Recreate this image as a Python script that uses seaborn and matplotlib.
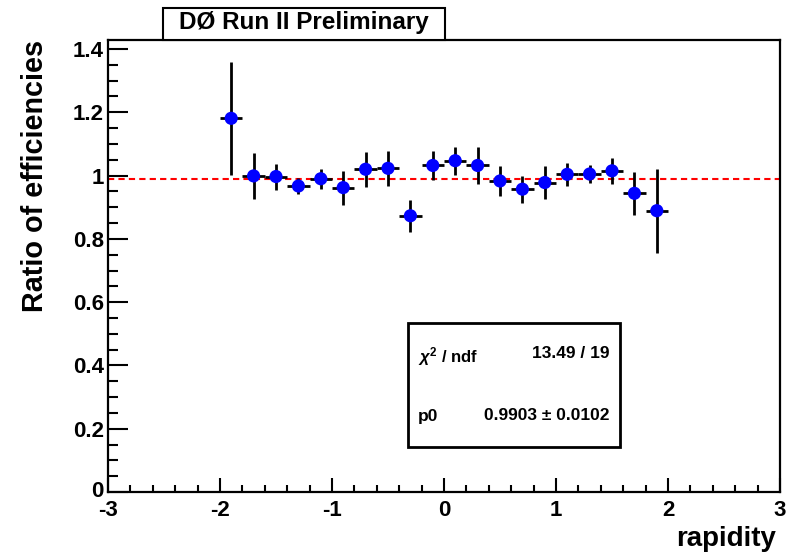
import numpy as np
import pandas as pd
import matplotlib
matplotlib.use("Agg")
import matplotlib.pyplot as plt
import matplotlib.transforms as mtransforms
from matplotlib.patches import Rectangle
from matplotlib.ticker import MultipleLocator, FixedLocator
import seaborn as sns

# ---- data ----
rapidity = [-1.9, -1.7, -1.5, -1.3, -1.1, -0.9, -0.7, -0.5, -0.3, -0.1,
            0.1, 0.3, 0.5, 0.7, 0.9, 1.1, 1.3, 1.5, 1.7, 1.9]
ratio = [1.181, 0.999, 0.997, 0.967, 0.990, 0.962, 1.020, 1.023, 0.873, 1.032,
         1.047, 1.032, 0.983, 0.957, 0.978, 1.004, 1.005, 1.015, 0.944, 0.889]
ratio_err = [0.179, 0.072, 0.041, 0.025, 0.032, 0.054, 0.055, 0.055, 0.050, 0.047,
             0.044, 0.058, 0.047, 0.043, 0.052, 0.036, 0.028, 0.042, 0.068, 0.133]
bin_half_width = [0.1] * 20
fit_p0 = 0.9903
fit_p0_err = 0.0102
chi2 = 13.49
ndf = 19
x_ticks = [-3, -2, -1, 0, 1, 2, 3]
y_ticks = [0, 0.2, 0.4, 0.6, 0.8, 1, 1.2, 1.4]
y_tick_labels = ["0", "0.2", "0.4", "0.6", "0.8", "1", "1.2", "1.4"]

df = pd.DataFrame({"rapidity": rapidity, "ratio": ratio,
                   "err": ratio_err, "xerr": bin_half_width})

sns.set_style("white")
plt.rcParams["font.family"] = ["Liberation Sans", "DejaVu Sans"]
plt.rcParams["font.weight"] = "bold"
for k in ["text.color", "axes.labelcolor", "xtick.color", "ytick.color", "axes.edgecolor"]:
    plt.rcParams[k] = "black"
plt.rcParams["mathtext.fontset"] = "custom"
plt.rcParams["mathtext.rm"] = "Liberation Sans:bold"
plt.rcParams["mathtext.it"] = "Liberation Sans:italic:bold"
plt.rcParams["mathtext.bf"] = "Liberation Sans:bold"

W, H = 799, 552
fig = plt.figure(figsize=(W / 100, H / 100), dpi=100)
L, R, B, T = 108, 780, 492, 40
ax = fig.add_axes([L / W, 1 - B / H, (R - L) / W, (B - T) / H])

ax.errorbar(df["rapidity"], df["ratio"], yerr=df["err"], xerr=df["xerr"],
            fmt="none", ecolor="black", elinewidth=2.0, capsize=0, zorder=3)
sns.scatterplot(data=df, x="rapidity", y="ratio", ax=ax, color="#0000ff",
                s=90, edgecolor="none", zorder=4, legend=False)
ax.axhline(fit_p0, color="red", lw=1.5, ls=(0, (3, 2)), zorder=2)

ax.set_xlim(-3, 3)
ax.set_ylim(0, 1.4285)
ax.xaxis.set_major_locator(FixedLocator(x_ticks))
ax.xaxis.set_minor_locator(MultipleLocator(0.2))
ax.yaxis.set_major_locator(FixedLocator(y_ticks))
ax.yaxis.set_minor_locator(MultipleLocator(0.05))
ax.set_xticklabels([str(v) for v in x_ticks])
ax.set_yticklabels(y_tick_labels)

ax.tick_params(axis="x", which="major", direction="in", length=10, width=1.5,
               labelsize=16, pad=6, bottom=True, top=False, colors="black")
ax.tick_params(axis="x", which="minor", direction="in", length=5, width=1.5,
               bottom=True, top=False)
ax.tick_params(axis="y", which="major", direction="in", length=14.5, width=1.5,
               labelsize=16, pad=3, left=True, right=False, colors="black")
ax.tick_params(axis="y", which="minor", direction="in", length=7.5, width=1.5,
               left=True, right=False)
for lab in ax.get_xticklabels() + ax.get_yticklabels():
    lab.set_fontweight("bold")
# nudge the "0" y label up a little so it clears the "-3" x label
zero_lab = ax.get_yticklabels()[0]
zero_lab.set_transform(zero_lab.get_transform() +
                       mtransforms.ScaledTranslation(0, 3 / 100, fig.dpi_scale_trans))
for sp in ax.spines.values():
    sp.set_linewidth(1.6)
    sp.set_color("black")
    sp.set_visible(True)

ax.set_xlabel("rapidity", fontsize=20, fontweight="bold", color="black")
ax.xaxis.set_label_coords((776 - L) / (R - L), -0.075)
ax.xaxis.label.set_horizontalalignment("right")
ax.set_ylabel("Ratio of efficiencies", fontsize=20.7, fontweight="bold", color="black")
ax.yaxis.set_label_coords((35 - L) / (R - L), 1.0)
ax.yaxis.label.set_verticalalignment("center")
ax.yaxis.label.set_horizontalalignment("right")

# title box
def px(x, y):
    return x / W, 1 - y / H

x0, y0 = px(163, 40)
x1, y1 = px(445, 8)
fig.patches.append(Rectangle((x0, y0), x1 - x0, y1 - y0, transform=fig.transFigure,
                             facecolor="white", edgecolor="black", lw=1.5, zorder=5))
fig.text((x0 + x1) / 2, (y0 + y1) / 2 + 0.002, "DØ Run II Preliminary", ha="center", va="center",
         fontsize=17.5, fontweight="bold", zorder=6)

# stats box
sx0, sy0 = px(408, 447)
sx1, sy1 = px(620, 323)
fig.patches.append(Rectangle((sx0, sy0), sx1 - sx0, sy1 - sy0, transform=fig.transFigure,
                             facecolor="white", edgecolor="black", lw=2, zorder=5))
fig.text(px(418, 0)[0], px(0, 357)[1], r"$\chi^{2}$ / ndf", ha="left", va="center",
         fontsize=12, fontweight="bold", zorder=6)
fig.text(px(609, 0)[0], px(0, 354)[1], f"{chi2:.2f} / {ndf}", ha="right", va="center",
         fontsize=12.5, fontweight="bold", zorder=6)
fig.text(px(418, 0)[0], px(0, 417)[1], "p0", ha="left", va="center",
         fontsize=12.5, fontweight="bold", zorder=6)
fig.text(px(609, 0)[0], px(0, 416)[1], f"{fit_p0:.4f} ± {fit_p0_err:.4f}", ha="right",
         va="center", fontsize=12.5, fontweight="bold", zorder=6)

fig.savefig("out.png", dpi=100)
